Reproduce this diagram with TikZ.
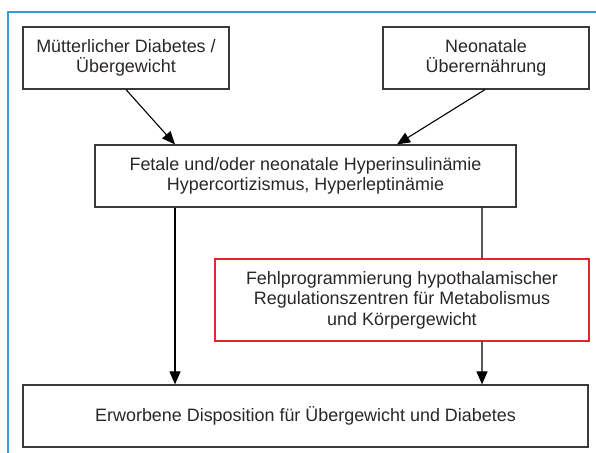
\documentclass[tikz,border=0pt]{standalone}
\usepackage{fontspec}
\setmainfont{Liberation Sans}
\usetikzlibrary{arrows.meta,calc}
\definecolor{txt}{HTML}{2A2627}
\definecolor{boxline}{HTML}{3A3A3A}
\definecolor{redline}{HTML}{E0262E}
\definecolor{frameblue}{HTML}{3B9BD8}
\begin{document}
\begin{tikzpicture}[x=1bp,y=1bp,
  box/.style={draw=boxline,line width=1.2bp,rectangle,align=center,inner sep=0pt,
    text=txt,font=\fontsize{18}{20.5}\selectfont,minimum height=62bp},
  redbox/.style={box,draw=redline,minimum height=82bp},
  conn/.style={draw=black,line width=1.1bp},
  arr/.style={conn,-{Triangle[width=11bp,length=13bp]}}]
\useasboundingbox (0,0) rectangle (596,453);
\draw[frameblue,line width=2bp] (8,0) -- (8,441) -- (597,441);
\node[box,minimum width=206bp] (A) at (126,395) {Mütterlicher Diabetes /\\Übergewicht};
\node[box,minimum width=206bp] (B) at (486,395) {Neonatale\\Überernährung};
\node[box,minimum width=421bp] (C) at (305.5,277) {Fetale und/oder neonatale Hyperinsulinämie\\Hypercortizismus, Hyperleptinämie};
\node[redbox,minimum width=374bp] (D) at (402,153) {Fehlprogrammierung hypothalamischer\\Regulationszentren für Metabolismus\\und Körpergewicht};
\node[box,minimum width=565bp] (E) at (305.5,37) {Erworbene Disposition für Übergewicht und Diabetes};
\draw[arr] (A.south) -- ([xshift=-130.5bp]C.north);
\draw[arr] ([xshift=-1bp]B.south) -- ([xshift=91.5bp]C.north);
\draw[arr] ([xshift=-130.5bp]C.south) -- ([xshift=-130.5bp]E.north);
\draw[conn] ([xshift=176.5bp]C.south) -- ([xshift=80bp]D.north);
\draw[arr] ([xshift=80bp]D.south) -- ([xshift=176.5bp]E.north);
\end{tikzpicture}
\end{document}
